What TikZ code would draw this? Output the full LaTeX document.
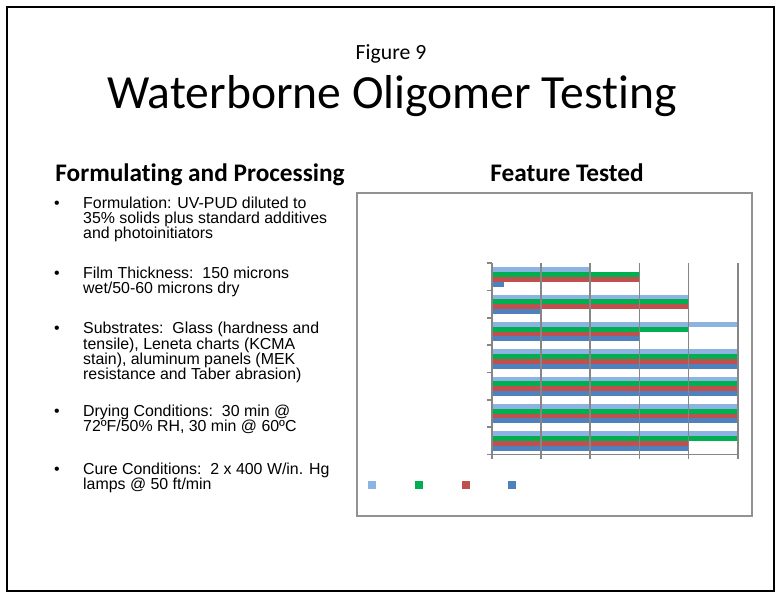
\documentclass[tikz,border=0pt]{standalone}
\usepackage{fontspec}
\setmainfont{Carlito}[Ligatures=NoCommon]
\newfontfamily\arialf{Liberation Sans}
\definecolor{lblue}{HTML}{8DB3E2}
\definecolor{bgreen}{HTML}{00B050}
\definecolor{bred}{HTML}{C0504D}
\definecolor{bblue}{HTML}{4F81BD}
\definecolor{axisgray}{HTML}{868686}
\begin{document}
\begin{tikzpicture}[x=1pt,y=-1pt,
  body/.style={font=\arialf\fontsize{15.9}{15}\selectfont, anchor=base west, inner sep=0pt},
  bul/.style={font=\arialf\fontsize{15.9}{15}\selectfont, anchor=base, inner sep=0pt},
  head/.style={font=\bfseries\fontsize{25.3}{25}\selectfont, anchor=base, inner sep=0pt},
  gridln/.style={draw=axisgray, line width=1.6pt},
  legsq/.style={inner sep=0pt, minimum size=8pt}]
\useasboundingbox (0,0) rectangle (776,593);
\fill[white] (0,0) rectangle (776,593);
\draw[line width=2pt] (7,7) rectangle (774,591);
% titles
\node[font=\fontsize{21.7}{22}\selectfont, anchor=base, inner sep=0pt] (fig) at (391,60) {Figure 9};
\node[font=\fontsize{47.6}{48}\selectfont, anchor=base, inner sep=0pt] (title) at (392,109) {Waterborne Oligomer Testing};
\node[head] (hleft) at (200,182) {Formulating and Processing};
\node[head] (hright) at (567,182) {Feature Tested};
% bullets
\foreach \y/\n in {209/b1,279/b2,334/b3,416/b4,474/b5}{
  \node[bul] (\n) at (57,\y) {•};
}
\node[body] (p1a) at (83,209) {Formulation: UV-PUD diluted to};
\node[body] (p1b) at (83,224) {35\% solids plus standard additives};
\node[body] (p1c) at (83,239) {and photoinitiators};
\node[body] (p2a) at (83,279) {Film Thickness:\ \ 150 microns};
\node[body] (p2b) at (83,294) {wet/50-60 microns dry};
\node[body] (p3a) at (83,334) {Substrates:\ \ Glass (hardness and};
\node[body] (p3b) at (83,349) {tensile), Leneta charts (KCMA};
\node[body] (p3c) at (83,364) {stain), aluminum panels (MEK};
\node[body] (p3d) at (83,379) {resistance and Taber abrasion)};
\node[body] (p4a) at (83,416) {Drying Conditions:\ \ 30 min @};
\node[body] (p4b) at (83,431) {72ºF/50\% RH, 30 min @ 60ºC};
\node[body] (p5a) at (83,474) {Cure Conditions:\ \ 2 x 400 W/in. Hg};
\node[body] (p5b) at (83,489) {lamps @ 50 ft/min};
% chart frame
\draw[draw=axisgray!90, line width=1.5pt] (357,193) rectangle (752,516);
% bars
\def\xz{491.7}\def\u{49.2}
\foreach \k/\a/\b/\c/\d in {0/2/3/3/0.25,1/4/4/4/1,2/5/4/3/3,3/5/5/5/5,4/5/5/5/5,5/5/5/5/5,6/5/5/4/4}{
  \pgfmathsetmacro{\t}{263.3+27.3*\k+4}
  \fill[lblue] (\xz,\t) rectangle ++(\a*\u,4.85);
  \fill[bgreen] (\xz,\t+4.85) rectangle ++(\b*\u,4.85);
  \fill[bred] (\xz,\t+9.7) rectangle ++(\c*\u,4.85);
  \fill[bblue] (\xz,\t+14.55) rectangle ++(\d*\u,4.85);
}
% gridlines and axes
\foreach \i in {1,...,5}{
  \draw[gridln] (\xz+\i*\u,263.3) -- (\xz+\i*\u,458.5);
}
\foreach \k in {0,...,7}{
  \draw[gridln] (486.5,263.3+27.3*\k) -- (\xz,263.3+27.3*\k);
}
\draw[gridln] (\xz,263.3) -- (\xz,458.5);
\draw[gridln] (\xz,454.4) -- (\xz+5*\u,454.4);
% legend
\node[legsq, fill=lblue] (l1) at (372,485) {};
\node[legsq, fill=bgreen] (l2) at (419,485) {};
\node[legsq, fill=bred] (l3) at (466,485) {};
\node[legsq, fill=bblue] (l4) at (512,485) {};
\end{tikzpicture}
\end{document}
